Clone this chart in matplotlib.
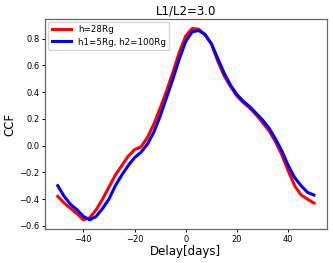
import numpy as np
import matplotlib
matplotlib.use("Agg")
import matplotlib.pyplot as plt

# CCF values, every 2.5 days
delay = np.arange(-50, 50.1, 2.5)

ccf_h28 = [-0.38, -0.43, -0.47, -0.51, -0.555, -0.54, -0.48, -0.40, -0.31, -0.22,
           -0.15, -0.08, -0.03, -0.01, 0.06, 0.16, 0.28, 0.41, 0.55, 0.70,
           0.82, 0.875, 0.87, 0.83, 0.76, 0.63, 0.52, 0.44, 0.37, 0.32,
           0.28, 0.23, 0.17, 0.11, 0.03, -0.07, -0.19, -0.30, -0.37, -0.40, -0.43]

ccf_h5_100 = [-0.30, -0.38, -0.44, -0.48, -0.53, -0.555, -0.53, -0.47, -0.40, -0.30,
              -0.22, -0.15, -0.09, -0.05, 0.01, 0.10, 0.22, 0.36, 0.50, 0.65,
              0.78, 0.85, 0.86, 0.83, 0.76, 0.65, 0.54, 0.45, 0.38, 0.33,
              0.29, 0.24, 0.19, 0.13, 0.05, -0.04, -0.15, -0.24, -0.30, -0.35, -0.37]

fig = plt.figure(figsize=(3.33, 2.63), dpi=100)
ax = fig.add_axes([0.135, 0.128, 0.846, 0.8])

ax.plot(delay, ccf_h28, color="red", lw=2.2, label="h=28Rg", solid_joinstyle="round")
ax.plot(delay, ccf_h5_100, color="blue", lw=2.2, label="h1=5Rg, h2=100Rg", solid_joinstyle="round")

ax.set_title("L1/L2=3.0", fontsize=8.5, pad=3)
ax.set_xlabel("Delay[days]", fontsize=8.5, labelpad=1)
ax.set_ylabel("CCF", fontsize=8.5, labelpad=2)
ax.set_xticks([-40, -20, 0, 20, 40])
ax.set_yticks([-0.6, -0.4, -0.2, 0.0, 0.2, 0.4, 0.6, 0.8])
ax.tick_params(labelsize=6, length=2.5, width=0.7, pad=1.5)
for s in ax.spines.values():
    s.set_color("0.4")
    s.set_linewidth(0.9)

ax.legend(loc="upper left", fontsize=6.3, handlelength=2.2, borderpad=0.4,
          labelspacing=0.35, borderaxespad=0.35)

fig.savefig("out.png", dpi=100)
